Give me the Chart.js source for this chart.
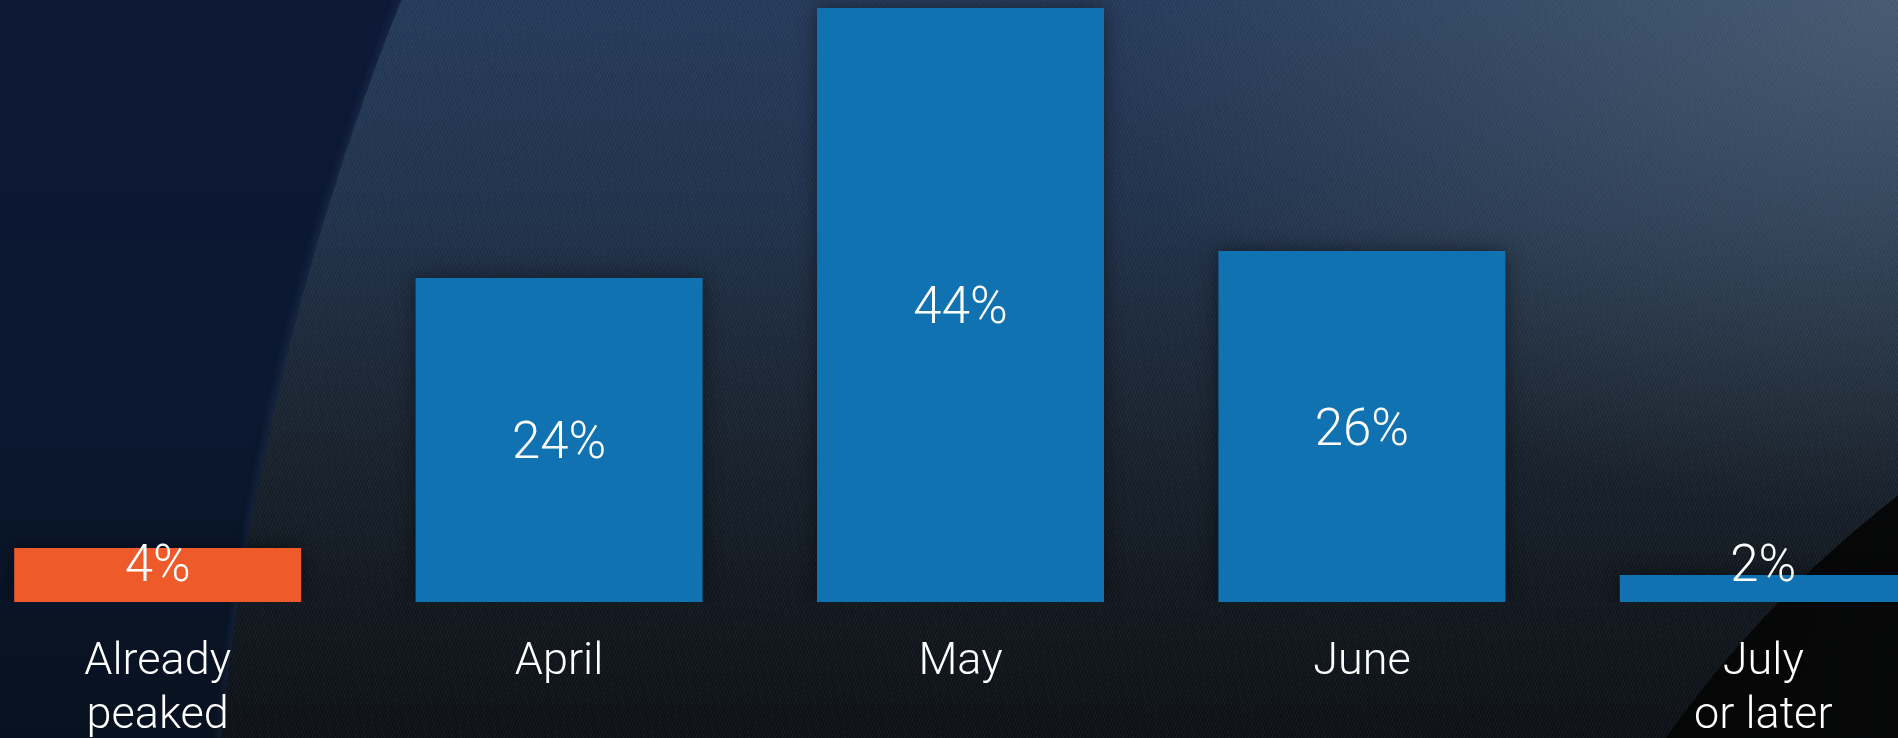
<!DOCTYPE html>
<html>
<head>
<meta charset="utf-8">
<script src="https://cdn.jsdelivr.net/npm/chart.js@4"></script>
<style>
	html, body { margin: 0; padding: 0; width: 1898px; height: 738px; overflow: hidden; }
	body {
		position: relative;
		background: linear-gradient(180deg, #0d1937 0%, #0b1830 55%, #08111f 100%);
	}
	/* the big record in the background */
	.record {
		position: absolute; left: 208px; top: -1697px; width: 5400px; height: 5400px; border-radius: 50%;
		background:
			repeating-linear-gradient(115deg, rgba(255,255,255,0.04) 0px, rgba(255,255,255,0.04) 1px, rgba(0,0,0,0) 1px, rgba(0,0,0,0) 3px) fixed,
			radial-gradient(ellipse 800px 520px at 1898px 0px, rgba(120,140,150,0.38), rgba(120,140,150,0) 100%) fixed,
			linear-gradient(180deg, #253a5a 0%, #20314a 30%, #19232f 58%, #12181f 80%, #0d1116 100%) fixed;
		box-shadow: -3px 0 8px rgba(80,110,150,0.2);
	}
	.record2 {
		position: absolute; left: 1455px; top: 255px; width: 2290px; height: 2290px; border-radius: 50%;
		background: radial-gradient(circle at 30% 20%, #0a0b0c 0%, #000 40%);
	}
	#wrap { position: absolute; left: -43px; top: 0; width: 2007px; height: 738px; }
</style>
</head>
<body>
<div class="record"></div>
<div class="record2"></div>
<div id="wrap"><canvas id="chart"></canvas></div>
<script>
	const categories = [['Already', 'peaked'], ['April'], ['May'], ['June'], ['July', 'or later']];
	const values = [4, 24, 44, 26, 2];
	const barColors = ['#ef5a2a', '#1072b0', '#1072b0', '#1072b0', '#1072b0'];

	const fontFamily = '"Helvetica Neue", Roboto, Lato, sans-serif';

	// Shadow under bars + text labels
	const labelPlugin = {
		id: 'labels',
		beforeDatasetsDraw(chart) {
			const ctx = chart.ctx;
			ctx.save();
			ctx.shadowColor = 'rgba(0,0,0,0.45)';
			ctx.shadowBlur = 18;
		},
		afterDatasetsDraw(chart) {
			const ctx = chart.ctx;
			ctx.restore();
			ctx.save();
			ctx.fillStyle = '#ffffff';
			ctx.textAlign = 'center';
			const meta = chart.getDatasetMeta(0);
			const xScale = chart.scales.x;

			// value labels
			ctx.font = '300 51px ' + fontFamily;
			ctx.textBaseline = 'alphabetic';
			meta.data.forEach((bar, i) => {
				let y = Math.min((bar.y + bar.base) / 2 + 18, bar.base - 21);
				ctx.fillText(values[i] + '%', bar.x, y);
			});

			// category labels
			ctx.font = '300 45px ' + fontFamily;
			const bottom = chart.chartArea.bottom;
			categories.forEach((lines, i) => {
				const x = xScale.getPixelForValue(i);
				lines.forEach((t, j) => {
					ctx.fillText(t, x, bottom + 72 + j * 54);
				});
			});
			ctx.restore();
		}
	};

	var ctx1 = document.getElementById('chart').getContext('2d');
	window.myChart = new Chart(ctx1, {
		type: 'bar',
		data: {
			labels: categories.map(c => c.join(' ')),
			datasets: [{
				data: values,
				backgroundColor: barColors,
				borderWidth: 0,
				barPercentage: 0.715,
				categoryPercentage: 1
			}]
		},
		options: {
			responsive: true,
			maintainAspectRatio: false,
			animation: false,
			layout: { padding: { top: 0, left: 0, right: 0, bottom: 136 } },
			plugins: {
				legend: { display: false },
				tooltip: { enabled: false }
			},
			scales: {
				x: { display: false },
				y: { display: false, min: 0, max: 44.6 }
			}
		},
		plugins: [labelPlugin]
	});
</script>
</body>
</html>
